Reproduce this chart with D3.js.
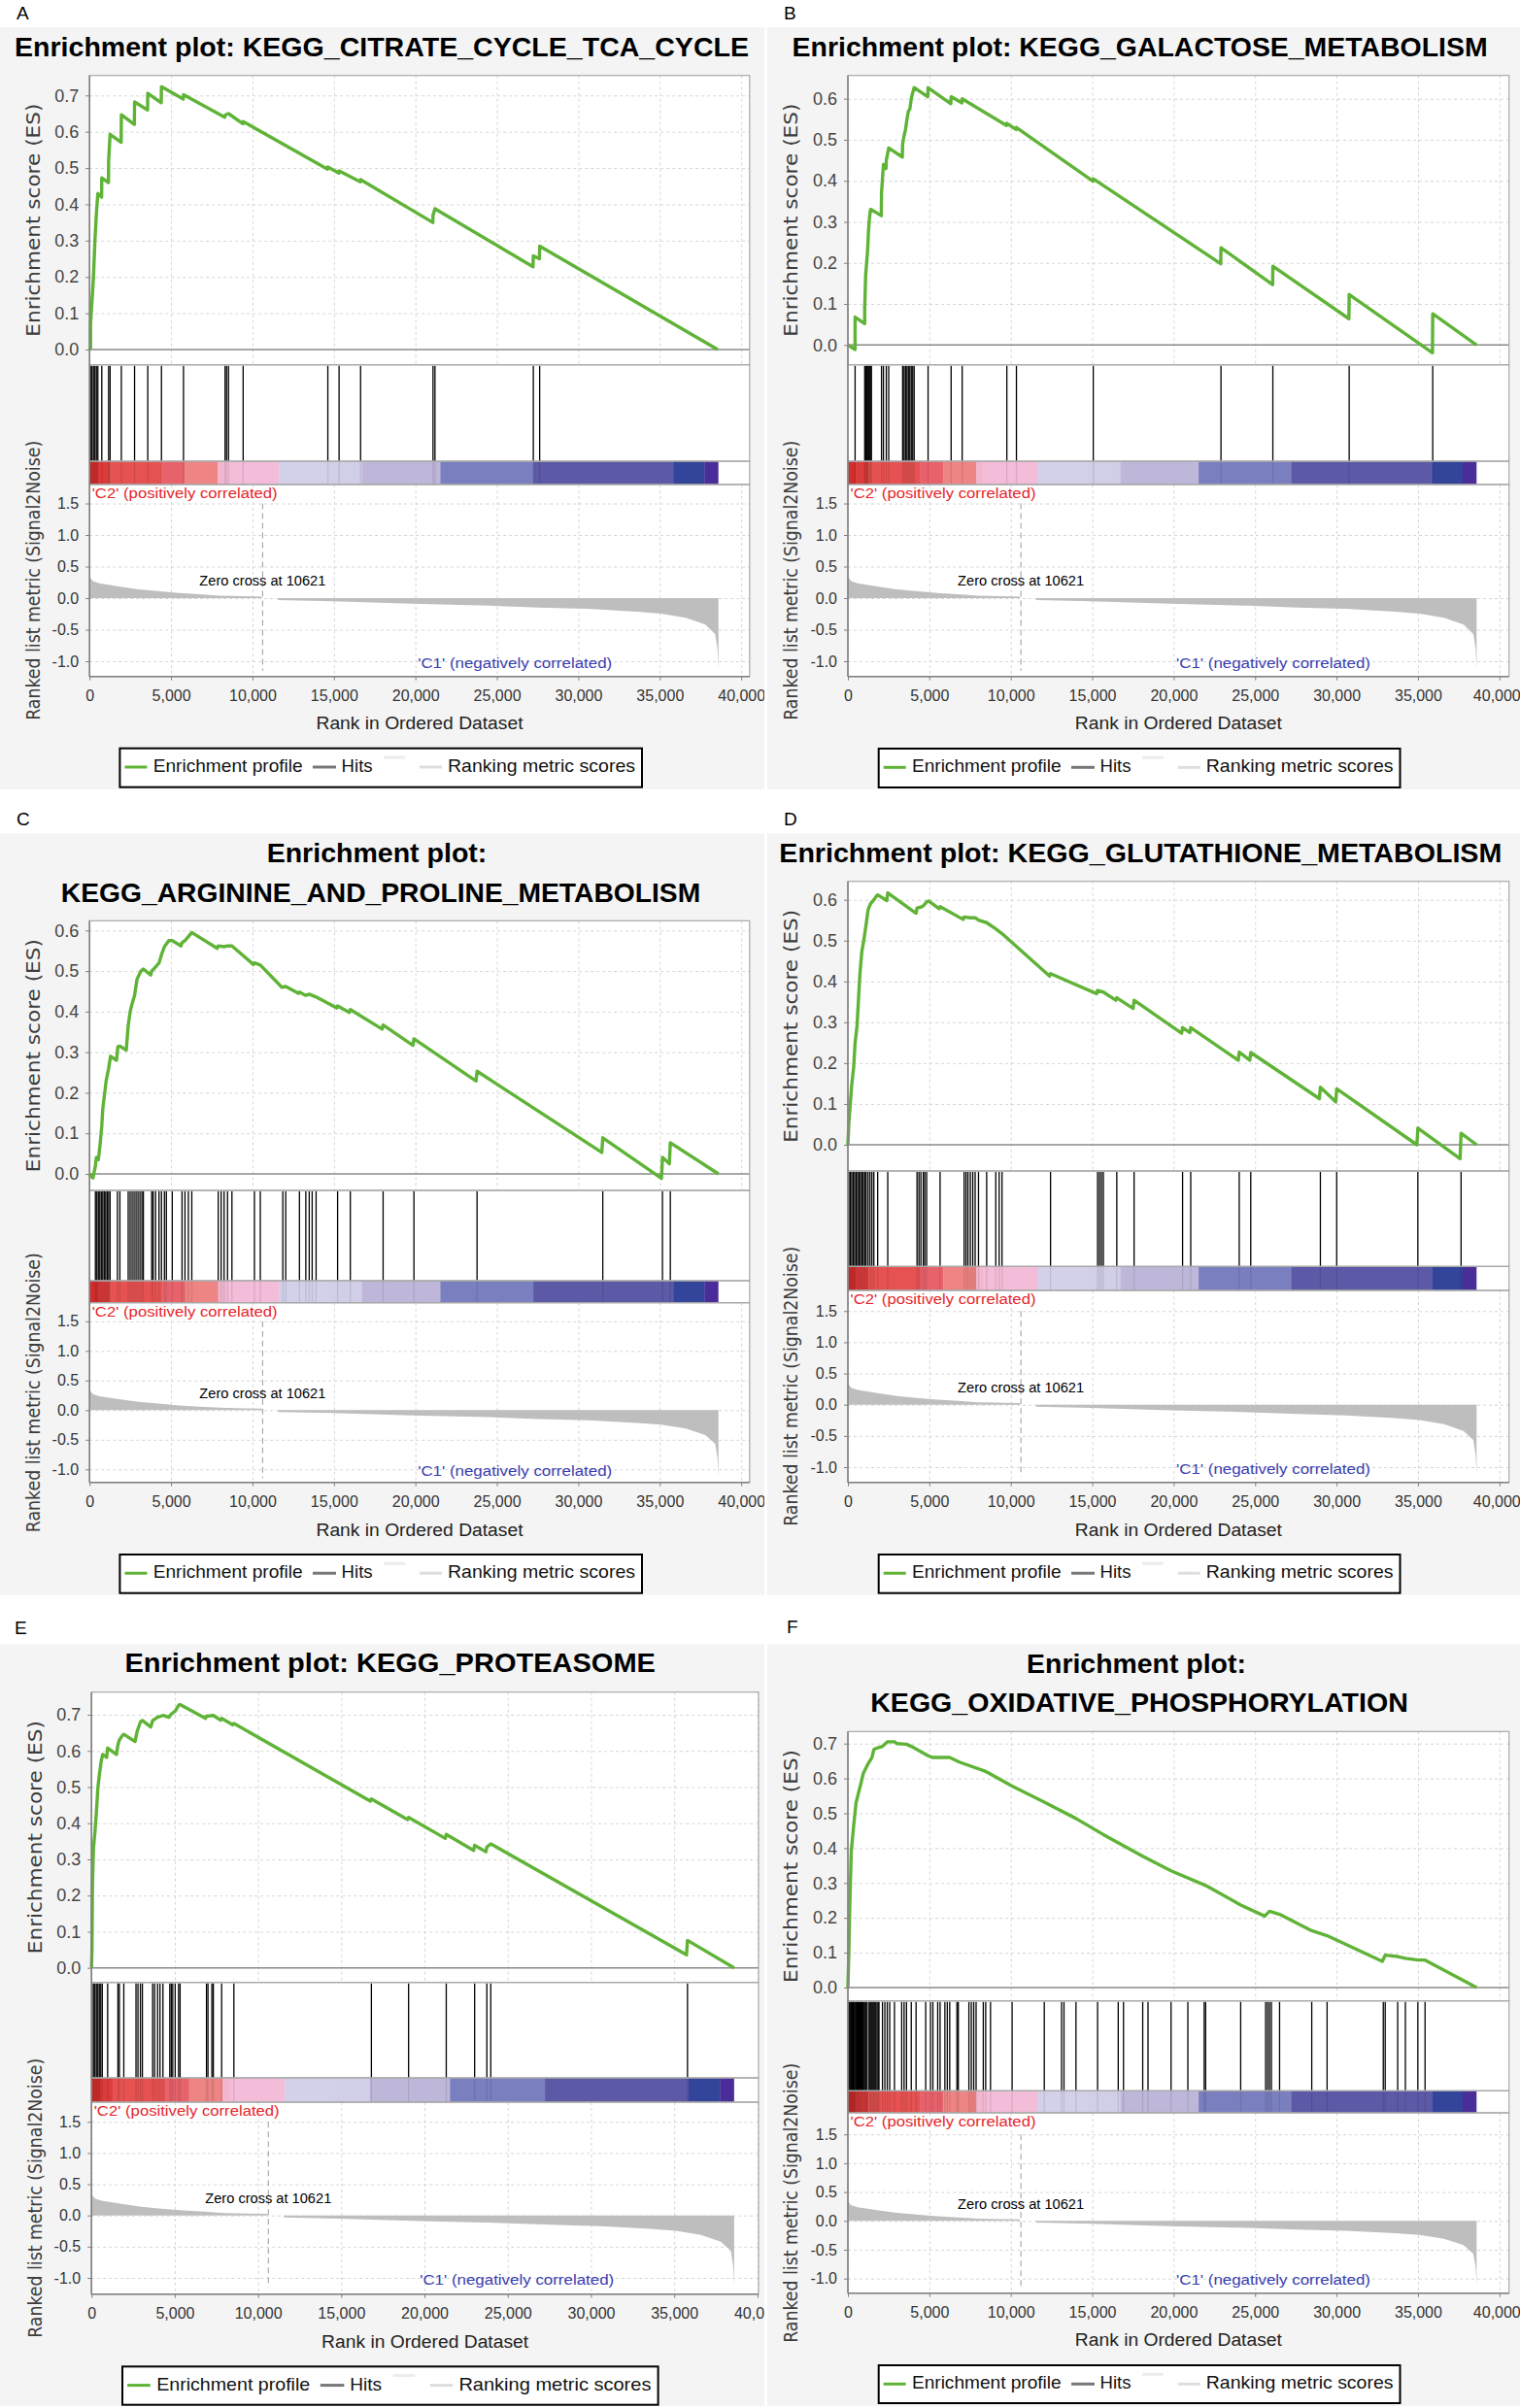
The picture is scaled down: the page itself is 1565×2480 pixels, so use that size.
<!DOCTYPE html>
<html>
<head>
<meta charset="utf-8">
<script src="https://cdn.jsdelivr.net/npm/d3@7"></script>
<style>
  body { margin: 0; background: #fff; }
  svg { display: block; }
</style>
</head>
<body>
<div id="chart"></div>
<script>
// ---- data ----
const xTickValues = [0, 5000, 10000, 15000, 20000, 25000, 30000, 35000, 40000]
const esTicks7 = [0, 0.1, 0.2, 0.3, 0.4, 0.5, 0.6, 0.7]
const esTicks6 = [0, 0.1, 0.2, 0.3, 0.4, 0.5, 0.6]
const metricTicks = [-1, -0.5, 0, 0.5, 1, 1.5]
const zeroCross = 10621

// ranked list metric (same list in every panel)
const metricRanks = [0, 60, 200, 600, 1800, 3000, 4200, 5500, 6750, 8000, 9500, 10570, 10571, 11560, 11561,
  14900, 19800, 24600, 27600, 30600, 33600, 35100, 36600, 37800, 38400, 38540, 38600]
const metricValues = [0.37, 0.32, 0.27, 0.235, 0.185, 0.14, 0.11, 0.08, 0.06, 0.04, 0.03, 0.025, 0, 0, -0.03,
  -0.05, -0.09, -0.12, -0.15, -0.17, -0.215, -0.245, -0.31, -0.42, -0.57, -0.8, -1.12]

// colour bar under the hits
const barStarts = [0, 510, 1261, 4414, 5856, 7868, 8318, 11621, 14624, 16727, 21532, 27236, 35856, 37746]
const barEnds = [510, 1261, 4414, 5856, 7868, 8318, 11621, 14624, 16727, 21532, 27236, 35856, 37746, 38580]
const barColors = ["#d12d2c", "#dc3b3b", "#e65251", "#e8626c", "#ef8484", "#f2b6ce", "#f3bcd8", "#d3d1ea",
  "#d1cfe8", "#beb7da", "#7a7fbf", "#5c59a7", "#33449b", "#4a2d98"]

const titleA = ["Enrichment plot: KEGG_CITRATE_CYCLE_TCA_CYCLE"]
const titleB = ["Enrichment plot: KEGG_GALACTOSE_METABOLISM"]
const titleC = ["Enrichment plot:", "KEGG_ARGININE_AND_PROLINE_METABOLISM"]
const titleD = ["Enrichment plot: KEGG_GLUTATHIONE_METABOLISM"]
const titleE = ["Enrichment plot: KEGG_PROTEASOME"]
const titleF = ["Enrichment plot:", "KEGG_OXIDATIVE_PHOSPHORYLATION"]

// hit positions (rank)
const hitsA = [60, 150, 240, 330, 420, 511, 751, 1171, 1261, 1952, 2763, 3574, 4414, 5766, 8318, 8408, 8528,
  9429, 14625, 15315, 16636, 21081, 21201, 27237, 27627]
const hitsB = [442, 1032, 1091, 1150, 1209, 1268, 1327, 1386, 1445, 2064, 2182, 2358, 2506, 3361, 3449, 3538,
  3626, 3715, 3803, 3891, 3980, 4068, 4923, 6338, 7016, 9758, 10347, 15064, 22906, 26090, 30777, 35907]
const hitsC = [360, 450, 541, 631, 721, 811, 901, 991, 1081, 1171, 1261, 1712, 1862, 2372, 2492, 2613, 2733,
  2853, 2973, 3093, 3213, 3303, 3814, 3904, 4054, 4264, 4414, 4595, 4715, 5075, 5676, 5856, 6066, 6276, 7898,
  8078, 8258, 8468, 8739, 10120, 10480, 11862, 12042, 12883, 13273, 13483, 13663, 13904, 15225, 16006, 18018,
  19910, 23784, 31501, 35165, 35646]
const hitsD = [59, 147, 236, 324, 413, 501, 590, 678, 766, 855, 943, 1032, 1120, 1238, 1356, 1474, 1592, 1828,
  2447, 4245, 4363, 4481, 4628, 4717, 4835, 5660, 7134, 7252, 7370, 7517, 7665, 7812, 8019, 8520, 9080, 9286,
  9463, 12441, 15330, 15448, 15566, 15684, 16509, 17570, 20548, 21049, 24026, 24734, 29008, 30011, 34993, 37646]
const hitsE = [29, 118, 206, 294, 382, 470, 558, 647, 970, 1587, 1675, 1940, 2674, 2792, 2939, 3057, 3674, 3791,
  3968, 4115, 4291, 4702, 4791, 4879, 5026, 5231, 5320, 6907, 6995, 7230, 7318, 7818, 8552, 16811, 19045, 21308,
  23012, 23747, 23982, 35797]
const hitsF = [20, 70, 120, 170, 220, 270, 320, 370, 420, 470, 520, 570, 620, 680, 740, 800, 860, 920, 1000,
  1060, 1120, 1180, 1300, 1360, 1420, 1480, 1540, 1600, 1660, 1720, 1790, 1860, 1910, 2123, 2270, 2417, 2565,
  2860, 3302, 3449, 3597, 3891, 4186, 4776, 5071, 5218, 5513, 5660, 5955, 6102, 6250, 6692, 6780, 7429, 7576,
  7724, 7871, 8313, 8461, 8756, 10082, 12057, 13119, 13266, 14003, 15330, 16597, 16921, 18101, 18425, 19840,
  20872, 21874, 21963, 24115, 25648, 25766, 25883, 26001, 26503, 28478, 29421, 32870, 32988, 33755, 34226,
  34993, 35435]

// running enrichment score [rank, ES]
const esA = [[0, 0], [60, 0.005], [62, 0.07], [150, 0.134], [240, 0.2], [330, 0.3], [420, 0.375], [511, 0.43],
  [740, 0.42], [751, 0.473], [1160, 0.46], [1171, 0.52], [1261, 0.593], [1940, 0.571], [1952, 0.647],
  [2750, 0.62], [2763, 0.682], [3560, 0.66], [3574, 0.706], [4400, 0.68], [4414, 0.724], [5750, 0.69],
  [5766, 0.702], [8300, 0.64], [8318, 0.645], [8408, 0.648], [8528, 0.65], [9410, 0.622], [9429, 0.628],
  [14610, 0.497], [14625, 0.503], [15300, 0.486], [15315, 0.492], [16620, 0.462], [16636, 0.468],
  [21070, 0.35], [21081, 0.37], [21201, 0.388], [27220, 0.228], [27237, 0.258], [27610, 0.25], [27627, 0.285],
  [38557, 0]]
const esB = [[0, 0], [440, -0.011], [442, 0.068], [1030, 0.052], [1032, 0.09], [1091, 0.17], [1150, 0.2],
  [1209, 0.23], [1268, 0.28], [1327, 0.31], [1386, 0.33], [1445, 0.33], [2050, 0.315], [2064, 0.37],
  [2182, 0.44], [2340, 0.43], [2358, 0.45], [2506, 0.48], [3340, 0.458], [3361, 0.49], [3449, 0.51],
  [3538, 0.525], [3626, 0.55], [3715, 0.57], [3803, 0.575], [3891, 0.6], [3980, 0.615], [4068, 0.627],
  [4900, 0.605], [4923, 0.627], [6320, 0.588], [6338, 0.605], [7000, 0.59], [7016, 0.6], [9740, 0.535],
  [9758, 0.54], [10330, 0.525], [10347, 0.53], [15050, 0.399], [15064, 0.405], [22890, 0.198], [22906, 0.237],
  [26075, 0.147], [26090, 0.192], [30760, 0.064], [30777, 0.123], [35890, -0.019], [35907, 0.076], [38600, 0]]
const esC = [[0, 0], [210, -0.01], [360, 0.02], [420, 0.041], [541, 0.035], [661, 0.078], [751, 0.118],
  [811, 0.16], [901, 0.19], [1021, 0.23], [1171, 0.26], [1291, 0.29], [1652, 0.28], [1742, 0.314],
  [1862, 0.315], [2252, 0.305], [2372, 0.365], [2492, 0.4], [2613, 0.42], [2763, 0.44], [2913, 0.48],
  [3153, 0.5], [3303, 0.505], [3754, 0.49], [3814, 0.5], [4054, 0.51], [4264, 0.52], [4414, 0.54],
  [4595, 0.56], [4865, 0.575], [5075, 0.575], [5616, 0.562], [5676, 0.57], [5856, 0.575], [6066, 0.585],
  [6276, 0.595], [7838, 0.556], [7898, 0.562], [8258, 0.56], [8468, 0.562], [8739, 0.562], [10060, 0.516],
  [10120, 0.52], [10480, 0.515], [11801, 0.46], [12042, 0.462], [12823, 0.445], [12883, 0.448], [13273, 0.44],
  [13483, 0.443], [13904, 0.436], [15165, 0.409], [15225, 0.414], [15946, 0.398], [16006, 0.405],
  [17958, 0.357], [18018, 0.367], [19850, 0.317], [19910, 0.333], [23724, 0.229], [23784, 0.253],
  [31441, 0.053], [31501, 0.089], [35105, -0.011], [35165, 0.041], [35586, 0.025], [35646, 0.077], [38600, 0]]
const esD = [[0, 0], [59, 0.053], [147, 0.1], [236, 0.147], [354, 0.19], [442, 0.25], [560, 0.29], [649, 0.355],
  [737, 0.418], [855, 0.473], [973, 0.5], [1120, 0.54], [1238, 0.575], [1386, 0.59], [1592, 0.6], [1769, 0.61],
  [1828, 0.612], [2388, 0.598], [2447, 0.617], [4186, 0.567], [4245, 0.58], [4481, 0.582], [4628, 0.585],
  [4835, 0.595], [4953, 0.597], [5601, 0.578], [5660, 0.583], [7075, 0.552], [7134, 0.558], [7517, 0.556],
  [7812, 0.556], [8019, 0.55], [8520, 0.544], [9080, 0.529], [9463, 0.517], [12382, 0.413], [12441, 0.419],
  [15271, 0.37], [15330, 0.378], [15684, 0.374], [16450, 0.354], [16509, 0.36], [17511, 0.334], [17570, 0.354],
  [20489, 0.273], [20548, 0.287], [20990, 0.275], [21049, 0.287], [23967, 0.207], [24026, 0.227],
  [24675, 0.207], [24734, 0.226], [28949, 0.113], [29008, 0.141], [29952, 0.105], [30011, 0.137],
  [34934, 0.0], [34993, 0.041], [37587, -0.034], [37646, 0.028], [38600, 0]]
const esE = [[0, 0], [29, 0.05], [59, 0.233], [118, 0.33], [206, 0.375], [294, 0.43], [382, 0.497],
  [470, 0.533], [588, 0.573], [676, 0.59], [911, 0.582], [970, 0.608], [1499, 0.59], [1587, 0.617],
  [1675, 0.63], [1881, 0.644], [1940, 0.646], [2616, 0.626], [2734, 0.653], [2939, 0.68], [3057, 0.684],
  [3556, 0.666], [3674, 0.684], [3968, 0.693], [4291, 0.698], [4644, 0.693], [4791, 0.702], [5026, 0.71],
  [5231, 0.726], [5320, 0.728], [6848, 0.69], [6907, 0.696], [7318, 0.698], [7759, 0.685], [7818, 0.69],
  [8494, 0.672], [8552, 0.676], [16752, 0.461], [16811, 0.467], [18986, 0.41], [19045, 0.416], [21249, 0.358],
  [21308, 0.369], [22953, 0.325], [23012, 0.339], [23688, 0.321], [23747, 0.334], [23982, 0.343],
  [35738, 0.036], [35797, 0.076], [38600, 0]]
const esF = [[0, 0], [59, 0.1], [118, 0.24], [206, 0.39], [354, 0.465], [501, 0.53], [649, 0.558],
  [796, 0.585], [943, 0.614], [1238, 0.642], [1474, 0.66], [1592, 0.683], [1828, 0.688], [2123, 0.692],
  [2417, 0.705], [2860, 0.705], [3007, 0.7], [3597, 0.698], [3891, 0.692], [4923, 0.665], [5218, 0.66],
  [6250, 0.66], [6839, 0.647], [8461, 0.62], [10082, 0.578], [12057, 0.532], [14003, 0.485], [15683, 0.439],
  [18101, 0.377], [19840, 0.335], [21963, 0.293], [24115, 0.237], [25589, 0.205], [25883, 0.219],
  [26503, 0.21], [28478, 0.163], [29421, 0.149], [32811, 0.075], [32988, 0.093], [33755, 0.089],
  [34226, 0.084], [34993, 0.079], [35435, 0.079], [38600, 0]]

// ---- layout of the six GSEA panels (pixels) ----
const panels = [
  { letter: "A", titles: titleA, hits: hitsA, es: esA, esTicks: esTicks7,
    L: { bgX: 0, bgW: 787, bgY: 28, bgH: 785, labX: 17, labY: 20,
      titlePos: [[393, 58.3, 756]],
      left: 92.2, right: 771.8, x40: 763.2, top: 77.7, esBot: 375.7, es0: 360, esRef: [0.7, 98.3],
      cbTop: 475, cbBot: 499, mBot: 696.7, m0: 616, mRef: [-1, 681], xLabY: 721.7, xTitY: 751,
      legX: 123.4, legW: 537.6, legY: 770.7, legH: 40 } },
  { letter: "B", titles: titleB, hits: hitsB, es: esB, esTicks: esTicks6,
    L: { bgX: 790, bgW: 775, bgY: 28, bgH: 785, labX: 807, labY: 20,
      titlePos: [[1173.6, 58.3, 716]],
      left: 873, right: 1553.7, x40: 1543.8, top: 77.7, esBot: 375.7, es0: 355.3, esRef: [0.6, 101.7],
      cbTop: 475, cbBot: 499, mBot: 696.7, m0: 616, mRef: [-1, 681], xLabY: 721.7, xTitY: 751,
      legX: 904.7, legW: 536.8, legY: 771, legH: 40 } },
  { letter: "C", titles: titleC, hits: hitsC, es: esC, esTicks: esTicks6,
    L: { bgX: 0, bgW: 787, bgY: 858.3, bgH: 784.4, labX: 17, labY: 850,
      titlePos: [[388, 888.3, 226.7], [392, 929.3, 658.4]],
      left: 92.2, right: 771.8, x40: 763.2, top: 948.3, esBot: 1226, es0: 1209, esRef: [0.6, 958.3],
      cbTop: 1319, cbBot: 1341.7, mBot: 1526.7, m0: 1452.3, mRef: [-1, 1513.3], xLabY: 1551.7, xTitY: 1581.7,
      legX: 123.4, legW: 537.6, legY: 1601, legH: 39.7 } },
  { letter: "D", titles: titleD, hits: hitsD, es: esD, esTicks: esTicks6,
    L: { bgX: 790, bgW: 775, bgY: 858.3, bgH: 784.4, labX: 807, labY: 850,
      titlePos: [[1174.3, 888.3, 744]],
      left: 873, right: 1553.7, x40: 1543.8, top: 907.7, esBot: 1206, es0: 1179, esRef: [0.6, 926.7],
      cbTop: 1304.3, cbBot: 1329, mBot: 1526.7, m0: 1446.7, mRef: [-1, 1511], xLabY: 1551.7, xTitY: 1581.7,
      legX: 904.7, legW: 536.8, legY: 1601, legH: 39.7 } },
  { letter: "E", titles: titleE, hits: hitsE, es: esE, esTicks: esTicks7,
    L: { bgX: 0, bgW: 787, bgY: 1693.3, bgH: 784.7, labX: 15, labY: 1683,
      titlePos: [[401.7, 1721.7, 546.5]],
      left: 94.2, right: 781, x40: 779.9, top: 1742.7, esBot: 2041.7, es0: 2026.7, esRef: [0.7, 1766],
      cbTop: 2140, cbBot: 2165, mBot: 2362.7, m0: 2281.7, mRef: [-1, 2346], xLabY: 2388.3, xTitY: 2417.7,
      legX: 126, legW: 551.6, legY: 2437.3, legH: 39.4 } },
  { letter: "F", titles: titleF, hits: hitsF, es: esF, esTicks: esTicks7,
    L: { bgX: 790, bgW: 775, bgY: 1693.3, bgH: 784.7, labX: 810, labY: 1682,
      titlePos: [[1170, 1722.7, 225.8], [1173, 1763.3, 553.6]],
      left: 873, right: 1553.7, x40: 1543.8, top: 1783.3, esBot: 2060.7, es0: 2047, esRef: [0.7, 1795.7],
      cbTop: 2153.3, cbBot: 2176, mBot: 2361.7, m0: 2287.3, mRef: [-1, 2346.7], xLabY: 2386.7, xTitY: 2416,
      legX: 904.7, legW: 536.8, legY: 2436, legH: 39 } }
]

const SANS = "'Liberation Sans', Arial, sans-serif"
const DEJA = "'DejaVu Sans', Verdana, sans-serif"
const green = "#5fb336"

const svg = d3.select("#chart").append("svg")
  .attr("width", 1565)
  .attr("height", 2480)

svg.append("rect").attr("width", 1565).attr("height", 2480).attr("fill", "#fff")

function styleGrid(a) {
  a.select(".domain").remove()
  a.selectAll("text").remove()
  a.selectAll("line").attr("stroke", "#d6d6d6").attr("stroke-dasharray", "3,3")
}

function drawPanel(p, i) {
  const L = p.L
  const W = L.right - L.left

  // panel letter in the white strip
  svg.append("text")
    .attr("x", L.labX).attr("y", L.labY)
    .attr("font-family", SANS).attr("font-size", 19)
    .text(p.letter)

  svg.append("clipPath").attr("id", "clip" + i)
    .append("rect").attr("x", L.bgX).attr("y", L.bgY).attr("width", L.bgW).attr("height", L.bgH)

  const g = svg.append("g").attr("clip-path", `url(#clip${i})`)
  g.append("rect")
    .attr("x", L.bgX).attr("y", L.bgY).attr("width", L.bgW).attr("height", L.bgH)
    .attr("fill", "#f4f4f4")

  const x = d3.scaleLinear().domain([0, 40000]).range([L.left, L.x40])
  const yEs = d3.scaleLinear().domain([0, L.esRef[0]]).range([L.es0, L.esRef[1]])
  const yM = d3.scaleLinear().domain([0, L.mRef[0]]).range([L.m0, L.mRef[1]])

  // white plot area
  g.append("rect")
    .attr("x", L.left).attr("y", L.top).attr("width", W).attr("height", L.mBot - L.top)
    .attr("fill", "#fff")

  // grids
  g.append("g").attr("transform", `translate(0,${L.top})`)
    .call(d3.axisBottom(x).tickValues(xTickValues).tickSize(L.esBot - L.top))
    .call(styleGrid)
  g.append("g").attr("transform", `translate(0,${L.cbBot})`)
    .call(d3.axisBottom(x).tickValues(xTickValues).tickSize(L.mBot - L.cbBot))
    .call(styleGrid)
  g.append("g").attr("transform", `translate(${L.left},0)`)
    .call(d3.axisLeft(yEs).tickValues(p.esTicks.slice(1)).tickSize(-W))
    .call(styleGrid)
  g.append("g").attr("transform", `translate(${L.left},0)`)
    .call(d3.axisLeft(yM).tickValues(metricTicks).tickSize(-W))
    .call(styleGrid)

  // ES zero line and running score
  g.append("line")
    .attr("x1", L.left).attr("x2", L.right).attr("y1", yEs(0)).attr("y2", yEs(0))
    .attr("stroke", "#8a8a8a").attr("stroke-width", 1.5)

  g.append("path")
    .datum(p.es)
    .attr("d", d3.line().x(d => x(d[0])).y(d => yEs(d[1])))
    .attr("fill", "none")
    .attr("stroke", green)
    .attr("stroke-width", 3.4)
    .attr("stroke-linejoin", "round")

  // hits
  g.append("g").selectAll("line")
    .data(p.hits)
    .join("line")
      .attr("x1", d => x(d)).attr("x2", d => x(d))
      .attr("y1", L.esBot + 1).attr("y2", L.cbTop)
      .attr("stroke", "#000").attr("stroke-width", 1.3)

  // colour bar
  g.append("g").selectAll("rect")
    .data(barColors)
    .join("rect")
      .attr("x", (d, j) => x(barStarts[j]))
      .attr("width", (d, j) => x(barEnds[j]) - x(barStarts[j]) + 0.3)
      .attr("y", L.cbTop).attr("height", L.cbBot - L.cbTop)
      .attr("fill", d => d)
  g.append("g").selectAll("line")
    .data(p.hits)
    .join("line")
      .attr("x1", d => x(d)).attr("x2", d => x(d))
      .attr("y1", L.cbTop).attr("y2", L.cbBot)
      .attr("stroke", "#000").attr("stroke-opacity", 0.1).attr("stroke-width", 1.3)

  // ranked list metric
  const metric = metricRanks.map((r, j) => [r, metricValues[j]])
  g.append("path")
    .datum(metric)
    .attr("d", d3.area().x(d => x(d[0])).y0(yM(0)).y1(d => yM(d[1])))
    .attr("fill", "#bebebe")

  g.append("line")
    .attr("x1", x(zeroCross)).attr("x2", x(zeroCross))
    .attr("y1", yM(1.5)).attr("y2", yM(-1.15))
    .attr("stroke", "#9a9a9a").attr("stroke-dasharray", "6,4")

  g.append("text")
    .attr("x", x(zeroCross)).attr("y", yM(0.2))
    .attr("text-anchor", "middle")
    .attr("font-family", SANS).attr("font-size", 14)
    .attr("textLength", 130).attr("lengthAdjust", "spacingAndGlyphs")
    .text("Zero cross at " + zeroCross)

  g.append("text")
    .attr("x", L.left + 2.5).attr("y", L.cbBot + 14)
    .attr("font-family", SANS).attr("font-size", 14).attr("fill", "#e5262b")
    .attr("textLength", 191).attr("lengthAdjust", "spacingAndGlyphs")
    .text("'C2' (positively correlated)")

  g.append("text")
    .attr("x", L.left + 338).attr("y", yM(-1.11))
    .attr("font-family", SANS).attr("font-size", 14).attr("fill", "#3a3db0")
    .attr("textLength", 200).attr("lengthAdjust", "spacingAndGlyphs")
    .text("'C1' (negatively correlated)")

  // frames
  const frames = [[L.top, L.esBot], [L.esBot, L.cbTop], [L.cbTop, L.cbBot], [L.cbBot, L.mBot]]
  g.append("g").selectAll("rect")
    .data(frames)
    .join("rect")
      .attr("x", L.left).attr("y", d => d[0])
      .attr("width", W).attr("height", d => d[1] - d[0])
      .attr("fill", "none").attr("stroke", "#a8a8a8").attr("stroke-width", 1.2)
  g.append("line")
    .attr("x1", L.left).attr("x2", L.left).attr("y1", L.top).attr("y2", L.mBot)
    .attr("stroke", "#808080").attr("stroke-width", 1.5)
  g.append("line")
    .attr("x1", L.left).attr("x2", L.right).attr("y1", L.mBot).attr("y2", L.mBot)
    .attr("stroke", "#808080").attr("stroke-width", 1.5)

  // axes
  g.append("g").attr("transform", `translate(${L.left},0)`)
    .call(d3.axisLeft(yEs).tickValues(p.esTicks).tickFormat(d => d.toFixed(1)).tickSize(4).tickPadding(7))
    .call(a => a.select(".domain").remove())
    .call(a => a.selectAll("line").attr("stroke", "#808080"))
    .call(a => a.selectAll("text").attr("font-family", SANS).attr("font-size", 18).attr("fill", "#444"))

  g.append("g").attr("transform", `translate(${L.left},0)`)
    .call(d3.axisLeft(yM).tickValues(metricTicks).tickFormat(d => d.toFixed(1)).tickSize(4).tickPadding(7))
    .call(a => a.select(".domain").remove())
    .call(a => a.selectAll("line").attr("stroke", "#808080"))
    .call(a => a.selectAll("text").attr("font-family", SANS).attr("font-size", 16).attr("fill", "#333"))

  // keep the last tick label inside the page on the right-hand column
  const edgeShift = L.bgX + L.bgW >= 1565 ? -3 : 0
  g.append("g").attr("transform", `translate(0,${L.mBot})`)
    .call(d3.axisBottom(x).tickValues(xTickValues).tickFormat(d3.format(",")).tickSize(4))
    .call(a => a.select(".domain").remove())
    .call(a => a.selectAll("line").attr("stroke", "#808080"))
    .call(a => a.selectAll("text")
      .attr("y", L.xLabY - L.mBot).attr("dy", 0)
      .attr("dx", d => d === 40000 ? edgeShift : 0)
      .attr("font-family", SANS).attr("font-size", 16).attr("fill", "#333"))

  // axis titles
  g.append("text")
    .attr("transform", `translate(${L.left - 51.7},${(L.top + L.esBot) / 2}) rotate(-90)`)
    .attr("text-anchor", "middle")
    .attr("font-family", DEJA).attr("font-size", 19).attr("fill", "#3c3c3c")
    .attr("textLength", 240).attr("lengthAdjust", "spacingAndGlyphs")
    .text("Enrichment score (ES)")

  g.append("text")
    .attr("transform", `translate(${L.left - 51.7},${(L.cbBot + L.mBot) / 2}) rotate(-90)`)
    .attr("text-anchor", "middle")
    .attr("font-family", DEJA).attr("font-size", 19).attr("fill", "#3c3c3c")
    .attr("textLength", 288).attr("lengthAdjust", "spacingAndGlyphs")
    .text("Ranked list metric (Signal2Noise)")

  g.append("text")
    .attr("x", (L.left + L.right) / 2).attr("y", L.xTitY)
    .attr("text-anchor", "middle")
    .attr("font-family", SANS).attr("font-size", 18).attr("fill", "#222")
    .attr("textLength", 213).attr("lengthAdjust", "spacingAndGlyphs")
    .text("Rank in Ordered Dataset")

  // title
  g.selectAll(".ttl")
    .data(p.titles)
    .join("text")
      .attr("x", (d, j) => L.titlePos[j][0])
      .attr("y", (d, j) => L.titlePos[j][1])
      .attr("textLength", (d, j) => L.titlePos[j][2])
      .attr("lengthAdjust", "spacingAndGlyphs")
      .attr("text-anchor", "middle")
      .attr("font-family", SANS).attr("font-weight", "bold").attr("font-size", 28)
      .text(d => d)

  drawLegend(g, L)
}

function drawLegend(g, L) {
  const k = L.legW / 537.6
  const lx = v => L.legX + v * k
  g.append("rect")
    .attr("x", L.legX).attr("y", L.legY).attr("width", L.legW).attr("height", L.legH)
    .attr("fill", "#fff").attr("stroke", "#000").attr("stroke-width", 2)

  // [x1, x2, colour, dy]
  const swatches = [[5, 28, green, 19.3], [198.6, 222.6, "#777", 19.3], [271.6, 293.6, "#ececec", 9.3],
    [308.6, 331.6, "#dedede", 19.3]]
  g.append("g").selectAll("line")
    .data(swatches)
    .join("line")
      .attr("x1", d => lx(d[0])).attr("x2", d => lx(d[1]))
      .attr("y1", d => L.legY + d[3]).attr("y2", d => L.legY + d[3])
      .attr("stroke", d => d[2]).attr("stroke-width", 3)

  const labels = [["Enrichment profile", 34.3, 154], ["Hits", 228.2, 32], ["Ranking metric scores", 337.6, 193]]
  g.append("g").selectAll("text")
    .data(labels)
    .join("text")
      .attr("x", d => lx(d[1])).attr("y", L.legY + 24.3)
      .attr("textLength", d => d[2] * k).attr("lengthAdjust", "spacingAndGlyphs")
      .attr("font-family", SANS).attr("font-size", 19).attr("fill", "#111")
      .text(d => d[0])
}

panels.forEach(drawPanel)
</script>
</body>
</html>
